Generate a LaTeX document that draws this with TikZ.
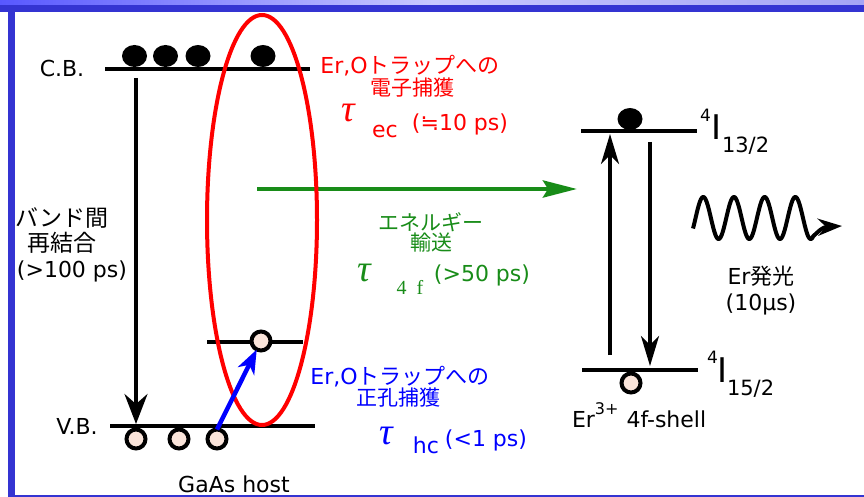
\documentclass[tikz,border=0pt]{standalone}
\usepackage{fontspec}
\setmainfont{DejaVu Sans}
\newfontfamily\jp{Noto Sans CJK JP}
\newfontfamily\grk{Liberation Serif}
\usetikzlibrary{arrows.meta,positioning,shapes.geometric}

\definecolor{trapred}{RGB}{255,0,0}
\definecolor{holeblue}{RGB}{0,0,255}
\definecolor{xfergreen}{RGB}{24,140,24}
\definecolor{holepink}{RGB}{250,228,218}
\definecolor{barblue}{RGB}{52,52,210}
\definecolor{topblueA}{RGB}{88,88,255}
\definecolor{topblueB}{RGB}{200,200,255}
\definecolor{topblueC}{RGB}{165,165,245}

\tikzset{
  level/.style={line width=4pt},
  electron/.style={ellipse, fill=black, minimum width=25pt, minimum height=22pt, inner sep=0pt},
  hole/.style={circle, draw=black, line width=4pt, fill=holepink, minimum size=19pt, inner sep=0pt},
  txt/.style={font=\fontsize{22}{22}\selectfont},
  jtxt/.style={font=\jp\fontsize{21}{20}\selectfont},
  tauchar/.style={font=\grk\itshape\fontsize{38}{38}\selectfont},
  bigdown/.style={line width=3.5pt, -{Stealth[length=30pt,width=23pt,inset=10pt]}},
  erarrow/.style={line width=3.5pt, -{Stealth[length=30pt,width=18pt,inset=9pt]}},
}

\begin{document}
\begin{tikzpicture}[x=1pt,y=-1pt,every node/.style={inner sep=0pt,outer sep=0pt}]
    \useasboundingbox (0,0) rectangle (864,497);
    % frame
    \shade[left color=topblueA, right color=topblueC, middle color=topblueB] (0,0) rectangle (864,5);
    \fill[barblue] (0,5) rectangle (864,12);
    \fill[barblue] (8,5) rectangle (15,497);
    \fill[barblue] (8,494.5) rectangle (864,497);

    % GaAs bands
    \coordinate (cbL) at (105,69);
    \coordinate (cbR) at (310,69);
    \coordinate (vbL) at (110,426);
    \coordinate (vbR) at (315,426);
    \coordinate (trL) at (207,342);
    \coordinate (trR) at (303,342);
    \draw[level] (cbL) -- (cbR);
    \draw[level] (vbL) -- (vbR);
    \draw[level] (trL) -- (trR);
    \node[txt] (cb) at (62,68) {C.B.};
    \node[txt] (vb) at (77,426) {V.B.};

    % energy transfer
    \coordinate (gstart) at (257,189);
    \coordinate (gend) at (577,189);
    \draw[xfergreen, line width=4.5pt, -{Stealth[length=34pt,width=17pt,inset=5pt]}] (gstart) -- (gend);

    % Er,O trap
    \draw[trapred, line width=4pt] (262,220) ellipse [x radius=55, y radius=205];

    \node[electron] (e1) at (134.5,56) {};
    \node[electron] (e2) at (165.5,56) {};
    \node[electron] (e3) at (198,56) {};
    \node[electron] (e4) at (263,56) {};
    \node[hole] (h1) at (136,439) {};
    \node[hole] (h2) at (179,439) {};
    \node[hole] (h3) at (217,439) {};
    \node[hole] (ht) at (261,341) {};

    \coordinate (rtop) at (136,78);
    \coordinate (rbot) at (136,424);
    \draw[bigdown] (rtop) -- (rbot);
    \draw[holeblue, line width=4.5pt, -{Stealth[length=24pt,width=18pt,inset=7pt]}] (h3.north) -- (ht);

    \node[jtxt, font=\jp\fontsize{23}{23}\selectfont] (bk1) at (62,218) {バンド間};
    \node[jtxt, font=\jp\fontsize{23}{23}\selectfont] (bk2) at (62,243) {再結合};
    \node[txt] (bk3) at (72,271) {(>100 ps)};

    % electron capture
    \node[txt, text=trapred] (ec1) at (410,66) {Er,O{\jp トラップへの}};
    \node[jtxt, text=trapred] (ec2) at (412,88) {電子捕獲};
    \node[tauchar, text=trapred] (tec) at (348,113) {τ};
    \node[txt, text=trapred] (tecs) at (385,131) {ec};
    \node[txt, text=trapred] (tecv) at (460,124) {(≒10 ps)};

    % transfer labels
    \node[jtxt, text=xfergreen, align=center] (xf) at (431,232) {エネルギー\\輸送};
    \node[tauchar, text=xfergreen] (tf) at (364,273) {τ};
    \node[font=\grk\fontsize{20}{20}\selectfont, text=xfergreen] (tfs) at (410,287) {4\hspace{10pt}f};
    \node[txt, text=xfergreen] (tfv) at (482,275) {(>50 ps)};

    % hole capture
    \node[txt, text=holeblue] (hc1) at (400,377) {Er,O{\jp トラップへの}};
    \node[jtxt, text=holeblue] (hc2) at (398,398) {正孔捕獲};
    \node[tauchar, text=holeblue] (thc) at (386,436) {τ};
    \node[txt, text=holeblue] (thcs) at (426,445) {hc};
    \node[txt, text=holeblue] (thcv) at (486,440) {(<1 ps)};

    \node[txt] (host) at (234,484) {GaAs host};

    % Er 4f levels
    \coordinate (erUL) at (581,131);
    \coordinate (erUR) at (697,131);
    \coordinate (erLL) at (582,370);
    \coordinate (erLR) at (698,370);
    \draw[level] (erUL) -- (erUR);
    \draw[level] (erLL) -- (erLR);
    \node[electron] (ee) at (630,119) {};
    \node[hole] (eh) at (631,383) {};
    \coordinate (upS) at (610,355);
    \coordinate (upE) at (610,134);
    \coordinate (dnS) at (650,142);
    \coordinate (dnE) at (650,366);
    \draw[erarrow] (upS) -- (upE);
    \draw[erarrow] (dnS) -- (dnE);

    \node[font=\fontsize{17}{17}\selectfont, anchor=base west] (u4) at (700,122) {4};
    \node[font=\fontsize{34}{34}\selectfont, anchor=base west] (uI) at (711,140) {I};
    \node[font=\fontsize{21}{21}\selectfont, anchor=base west] (u132) at (722,153) {13/2};
    \node[font=\fontsize{17}{17}\selectfont, anchor=base west] (l4) at (707,363) {4};
    \node[font=\fontsize{34}{34}\selectfont, anchor=base west] (lI) at (717,382) {I};
    \node[font=\fontsize{21}{21}\selectfont, anchor=base west] (l152) at (727,395) {15/2};
    \node[txt, anchor=base west] (shell) at (572,427) {Er\raisebox{13pt}{\fontsize{16}{16}\selectfont 3+}\hspace{8pt}4f-shell};

    % emission
    \coordinate (wtip) at (842,226);
    \draw[line width=4pt, line join=round, -{Stealth[length=24pt,width=17pt,inset=8pt]}]
      plot[domain=-30:1380, samples=200, smooth] ({693+(\x+30)/360*30.7},{218-21*sin(\x)})
      .. controls (818,232) and (822,227) .. (wtip);
    \node[txt] (erem) at (761,276) {Er{\jp 発光}};
    \node[txt] (ertime) at (761,304) {(10μs)};
\end{tikzpicture}
\end{document}
